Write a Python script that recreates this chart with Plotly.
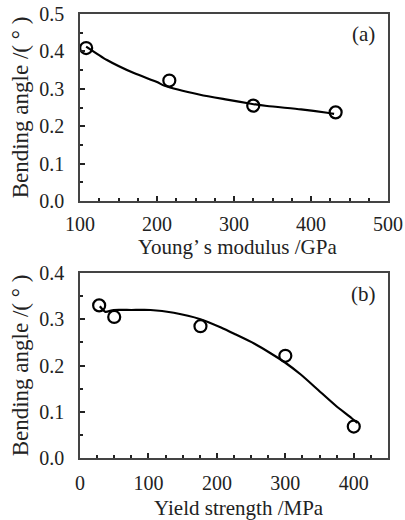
import plotly.graph_objects as go

# Panel (a)
young_pts_x = [108, 216, 325, 432]
young_pts_y = [0.409, 0.322, 0.255, 0.237]
young_fit_x = [108, 135, 170, 200, 210, 256, 291, 322, 343, 387, 421, 430]
young_fit_y = [0.413, 0.377, 0.342, 0.318, 0.308, 0.284, 0.271, 0.26, 0.254, 0.245, 0.236, 0.233]

# Panel (b)
yield_pts_x = [28, 50, 176, 300, 400]
yield_pts_y = [0.33, 0.305, 0.285, 0.221, 0.068]
yield_fit_x = [29, 37, 49, 75, 103, 137, 176, 206, 226, 255, 279, 299, 323, 348, 373, 397, 405]
yield_fit_y = [0.328, 0.316, 0.32, 0.32, 0.32, 0.314, 0.30, 0.282, 0.268, 0.247, 0.226, 0.207, 0.18, 0.147, 0.114, 0.086, 0.076]

x_titles = ["Young’ s modulus /GPa", "Yield strength /MPa"]
y_title = "Bending angle /( ° )"
panel_tags = ["(a)", "(b)"]

FONT = "Liberation Serif"
W, H = 405, 520
TXT = "#222"

fig = go.Figure()
line = dict(color="black", width=2.2, shape="spline", smoothing=0.6)
marker = dict(symbol="circle-open", size=12, color="black", line=dict(width=2.2, color="black"))

fig.add_trace(go.Scatter(x=young_fit_x, y=young_fit_y, mode="lines", line=line, xaxis="x", yaxis="y", showlegend=False))
fig.add_trace(go.Scatter(x=young_pts_x, y=young_pts_y, mode="markers", marker=marker, xaxis="x", yaxis="y", showlegend=False))
fig.add_trace(go.Scatter(x=yield_fit_x, y=yield_fit_y, mode="lines", line=line, xaxis="x2", yaxis="y2", showlegend=False))
fig.add_trace(go.Scatter(x=yield_pts_x, y=yield_pts_y, mode="markers", marker=marker, xaxis="x2", yaxis="y2", showlegend=False))

def ax(**kw):
    d = dict(showgrid=False, zeroline=False, showline=True, linecolor="#444", linewidth=1.5,
             mirror=True, ticks="inside", ticklen=5, tickwidth=2, tickcolor="#222",
             automargin=False,
             tickfont=dict(family=FONT, size=20, color=TXT),
             title_font=dict(family=FONT, size=23, color=TXT))
    d.update(kw)
    return d

minor_x = dict(dtick=25, ticks="inside", ticklen=3, tickwidth=2, tickcolor="#222")
minor_y = dict(dtick=0.05, ticks="inside", ticklen=3, tickwidth=2, tickcolor="#222")

xd = [80 / W, 388 / W]
xcen = (80 + 388) / 2 / W
fig.update_layout(
    width=W, height=H, margin=dict(l=0, r=0, t=0, b=0, autoexpand=False),
    plot_bgcolor="white", paper_bgcolor="white",
    xaxis=ax(domain=xd, range=[100, 500], dtick=100, anchor="y", minor=minor_x, ticklabelstandoff=4),
    yaxis=ax(domain=[(H - 201) / H, (H - 14) / H], range=[0, 0.5], dtick=0.1, tickformat=".1f",
             anchor="x", minor=minor_y, ticklabelstandoff=10,
             title=dict(text=y_title, standoff=4)),
    xaxis2=ax(domain=xd, range=[0, 450], dtick=100, anchor="y2", minor=minor_x, ticklabelstandoff=6),
    yaxis2=ax(domain=[(H - 458) / H, (H - 273) / H], range=[0, 0.4], dtick=0.1, tickformat=".1f",
              anchor="x2", minor=minor_y, ticklabelstandoff=10,
              title=dict(text=y_title, standoff=4)),
    annotations=[
        dict(text=x_titles[0], x=xcen + 4 / W, y=1 - 247 / H, xref="paper", yref="paper", showarrow=False,
             xanchor="center", yanchor="middle", font=dict(family=FONT, size=21, color=TXT)),
        dict(text=x_titles[1], x=xcen + 5 / W, y=1 - 508 / H, xref="paper", yref="paper", showarrow=False,
             xanchor="center", yanchor="middle", font=dict(family=FONT, size=21, color=TXT)),
        dict(text=panel_tags[0], x=(363 - 80) / 308, y=(201 - 34) / 187, xref="x domain", yref="y domain",
             showarrow=False, xanchor="center", yanchor="middle", font=dict(family=FONT, size=21, color=TXT)),
        dict(text=panel_tags[1], x=(363 - 80) / 308, y=(458 - 294) / 185, xref="x2 domain", yref="y2 domain",
             showarrow=False, xanchor="center", yanchor="middle", font=dict(family=FONT, size=21, color=TXT)),
    ],
)

fig.write_html("out.html", config={"displayModeBar": False},
               post_script="document.body.style.margin='0';document.body.style.overflow='hidden';")
